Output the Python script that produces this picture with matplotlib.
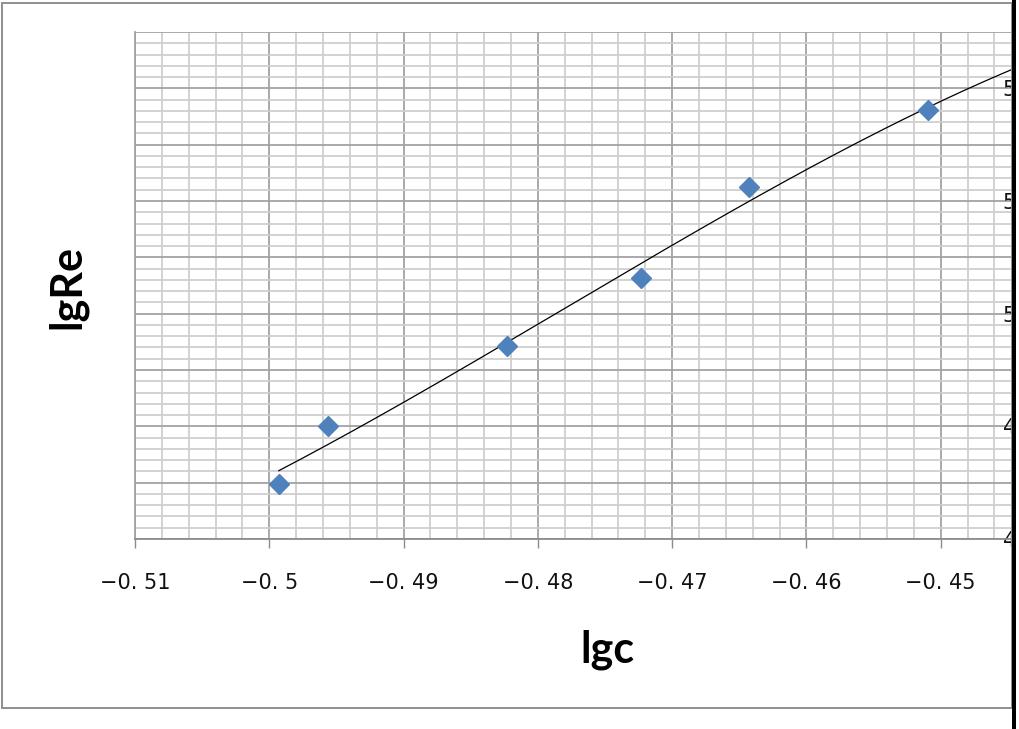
import numpy as np
import matplotlib
matplotlib.use("Agg")
import matplotlib.pyplot as plt
from matplotlib.patches import Rectangle
from matplotlib.ticker import MultipleLocator, FixedLocator, FixedFormatter

# ---- data ----
lgc = [-0.49929, -0.49565, -0.48232, -0.47233, -0.46429, -0.45095]
lgRe = [4.698, 4.801, 4.943, 5.064, 5.225, 5.361]

xticks = [-0.51, -0.50, -0.49, -0.48, -0.47, -0.46, -0.45, -0.44]
xtick_labels = ["\u22120. 51", "\u22120. 5", "\u22120. 49", "\u22120. 48",
                "\u22120. 47", "\u22120. 46", "\u22120. 45", "\u22120. 44"]
ygrid = [4.6, 4.7, 4.8, 4.9, 5.0, 5.1, 5.2, 5.3, 5.4, 5.5]
ytick_labels = ["4.6", "", "4.8", "", "5.0", "", "5.2", "", "5.4", ""]
x_label = "lgc"
y_label = "lgRe"

W, H = 1019, 729
fig = plt.figure(figsize=(W / 100, H / 100), dpi=100)
fig.patch.set_facecolor("white")

def fx(px):
    return px / W

def fy(py):
    return 1 - py / H

left, right, top, bottom = 135, 1075, 32, 539
ax = fig.add_axes([fx(left), fy(bottom), (right - left) / W, (bottom - top) / H])
ax.set_xlim(-0.51, -0.44)
ax.set_ylim(4.6, 5.5)

# grid
ax.xaxis.set_major_locator(FixedLocator(xticks))
ax.xaxis.set_major_formatter(FixedFormatter(xtick_labels))
ax.xaxis.set_minor_locator(MultipleLocator(0.002))
ax.yaxis.set_major_locator(FixedLocator(ygrid))
ax.yaxis.set_major_formatter(FixedFormatter(ytick_labels))
ax.yaxis.set_minor_locator(MultipleLocator(0.02))
ax.grid(which="minor", color="#cfcfcf", linewidth=1.3)
ax.grid(which="major", color="#a3a3a3", linewidth=1.3)
ax.set_axisbelow(True)

for s in ["top", "right"]:
    ax.spines[s].set_visible(False)
ax.spines["left"].set_color("#a3a3a3")
ax.spines["left"].set_linewidth(1.3)
ax.spines["bottom"].set_color("#8c8c8c")
ax.spines["bottom"].set_linewidth(1.3)

ax.tick_params(axis="x", which="major", direction="out", length=6.5, width=1.0,
               color="#8c8c8c", pad=18, labelsize=15)
ax.tick_params(axis="x", which="minor", length=0)
ax.tick_params(axis="y", which="both", left=False, right=False, length=0,
               labelleft=False, labelright=True, pad=-52, labelsize=15)
for lab in ax.get_xticklabels() + ax.get_yticklabels():
    lab.set_fontfamily("DejaVu Sans")
    lab.set_color("#111111")

# trendline (polynomial fit) and markers
coef = np.polyfit(lgc, lgRe, 3)
xs = np.linspace(lgc[0], -0.44, 200)
ax.plot(xs, np.polyval(coef, xs), color="black", linewidth=0.9, zorder=3)
ax.plot(lgc, lgRe, linestyle="none", marker="D", markersize=10,
        markerfacecolor="#4F81BD", markeredgecolor="#4F81BD", zorder=4)

# axis titles
fig.text(fx(607), fy(662), x_label, ha="center", va="baseline",
         fontsize=31, fontweight="bold", family="Lato")
fig.text(fx(67), fy(287), y_label, ha="center", va="center", rotation=90,
         fontsize=31, fontweight="bold", family="Lato")

# outer frame
frame = Rectangle((fx(2), fy(708)), fx(1012) - fx(2), fy(3) - fy(708),
                  transform=fig.transFigure, fill=False, edgecolor="#8f8f8f",
                  linewidth=1.4, zorder=10)
fig.patches.append(frame)
# right edge cut: black bar and white sliver
fig.patches.append(Rectangle((fx(1012), 0), fx(4), 1, transform=fig.transFigure,
                             facecolor="black", edgecolor="none", zorder=11))
fig.patches.append(Rectangle((fx(1016), 0), fx(3.5), 1, transform=fig.transFigure,
                             facecolor="white", edgecolor="none", zorder=11))

fig.savefig("out.png", dpi=100)
